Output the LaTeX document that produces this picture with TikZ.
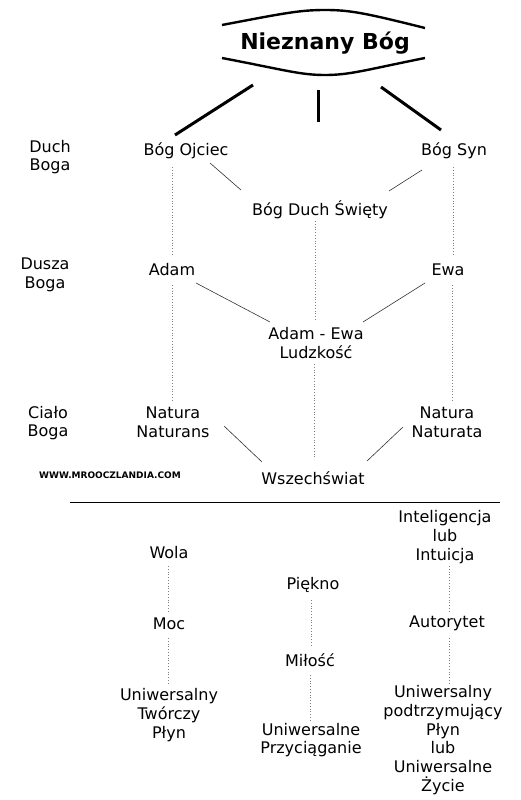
\documentclass[tikz,border=0pt]{standalone}
\usepackage{fontspec}
\setmainfont{DejaVu Sans}
\begin{document}
\begin{tikzpicture}[x=1pt,y=-1pt,
  lbl/.style={align=center,inner sep=1pt,font=\fontsize{16}{18.8}\selectfont},
  heavy/.style={line width=3pt,black},
  thin/.style={line width=0.6pt,black!80},
  dots/.style={dotted,line width=0.8pt,black!50}]
\useasboundingbox (0,0) rectangle (520,800);
% title
\node[font=\fontsize{22}{26}\bfseries\selectfont,inner sep=0pt] (title) at (325,43) {Nieznany Bóg};
\draw[line width=2.4pt] (222,25) .. controls (285,13) and (300,10) .. (325,10) .. controls (350,10) and (365,13) .. (425,28);
\draw[line width=2.4pt] (222,58) .. controls (285,70) and (300,75) .. (325,75) .. controls (350,75) and (365,70) .. (425,58);
% left labels
\node[lbl] (duch) at (50,157) {Duch\\Boga};
\node[lbl] (dusza) at (45,275) {Dusza\\Boga};
\node[lbl] (cialo) at (48,423) {Ciało\\Boga};
\node[font=\fontsize{9}{11}\bfseries\selectfont,inner sep=0pt] (www) at (110,475) {WWW.MROOCZLANDIA.COM};
% top part
\node[lbl] (ojciec) at (186,151) {Bóg Ojciec};
\node[lbl] (syn) at (454,151) {Bóg Syn};
\node[lbl] (swiety) at (320,210) {Bóg Duch Święty};
\node[lbl] (adam) at (172,270) {Adam};
\node[lbl] (ewa) at (448,270) {Ewa};
\node[lbl] (ludz) at (316,343) {Adam - Ewa\\Ludzkość};
\node[lbl] (nans) at (173,422) {Natura\\Naturans};
\node[lbl] (nata) at (447,422) {Natura\\Naturata};
\node[lbl] (wsz) at (313,478) {Wszechświat};
% heavy lines from title
\coordinate (h1) at (253,85);
\coordinate (h1e) at (175,135);
\coordinate (h2) at (318,90);
\coordinate (h2e) at (318,122);
\coordinate (h3) at (381,87);
\coordinate (h3e) at (441,130);
\draw[heavy] (h1) -- (h1e);
\draw[heavy] (h2) -- (h2e);
\draw[heavy] (h3) -- (h3e);
% thin links
\draw[thin] (210,163) -- (241,190);
\draw[thin] (422,170) -- (389,191);
\draw[thin] (196,283) -- (270,322);
\draw[thin] (425,283) -- (363,322);
\draw[thin] (224,426) -- (262,462);
\draw[thin] (403,427) -- (367,461);
% dotted verticals top
\draw[dots] (172,167) -- (172,256);
\draw[dots] (172,285) -- (172,400);
\draw[dots] (315,221) -- (315,320);
\draw[dots] (314,364) -- (314,458);
\draw[dots] (453,167) -- (453,256);
\draw[dots] (452,285) -- (452,400);
% separator
\draw[line width=0.9pt] (70,502) -- (500,502);
% bottom part
\node[lbl] (wola) at (169,553) {Wola};
\node[lbl] (moc) at (169,624) {Moc};
\node[lbl] (utp) at (169,715) {Uniwersalny\\Twórczy\\Płyn};
\node[lbl] (piekno) at (313,585) {Piękno};
\node[lbl] (milosc) at (310,660) {Miłość};
\node[lbl] (uprz) at (311,740) {Uniwersalne\\Przyciąganie};
\node[lbl] (intel) at (445,537) {Inteligencja\\lub\\Intuicja};
\node[lbl] (auto) at (447,623) {Autorytet};
\node[lbl] (upp) at (443,740) {Uniwersalny\\podtrzymujący\\Płyn\\lub\\Uniwersalne\\Życie};
\draw[dots] (168,566) -- (168,611);
\draw[dots] (168,638) -- (168,683);
\draw[dots] (311,600) -- (311,645);
\draw[dots] (310,675) -- (310,720);
\draw[dots] (449,566) -- (449,611);
\draw[dots] (449,638) -- (449,683);
\end{tikzpicture}
\end{document}
